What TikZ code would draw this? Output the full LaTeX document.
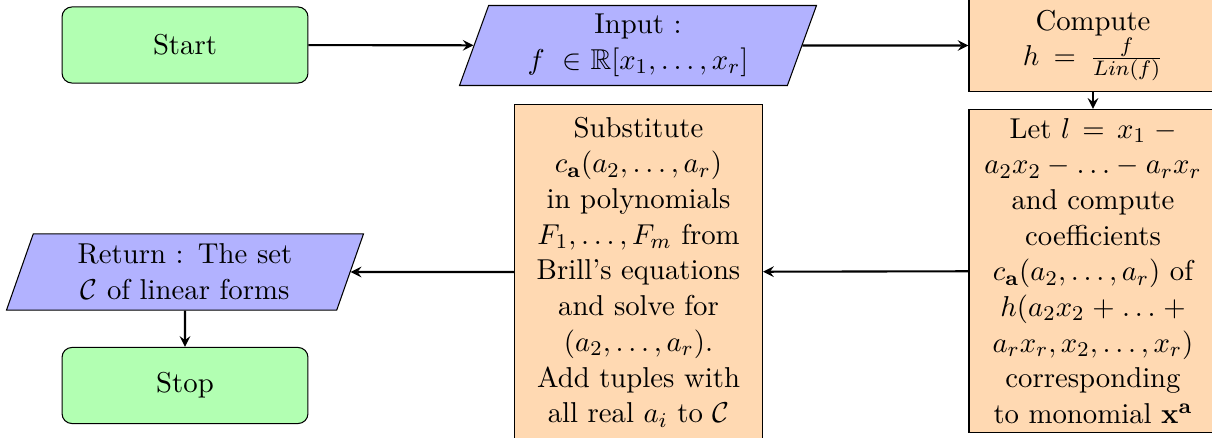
\documentclass[tikz,border=0pt]{standalone}
\usepackage{amsmath,amssymb}
\usetikzlibrary{shapes.geometric,arrows}
\begin{document}
\begin{tikzpicture}[x=0.381pt,y=-0.381pt,
  every node/.append style={font=\fontsize{10.95}{13.6}\selectfont},
  startstop/.style={rectangle, rounded corners=3.8pt, minimum width=93.7pt, minimum height=29pt, align=center, draw=black, fill=green!30},
  io/.style={trapezium, trapezium left angle=70, trapezium right angle=110, trapezium stretches body, minimum width=136pt, minimum height=29pt, text width=87pt, align=center, draw=black, fill=blue!30},
  process/.style={rectangle, minimum width=94.5pt, minimum height=29pt, text width=87pt, align=center, draw=black, fill=orange!30},
  arrow/.style={thick,->,>=stealth}]
\useasboundingbox (0,0) rectangle (1212,438);
\node[startstop] (start) at (185,45) {Start};
\node[io] (in) at (638,45.5) {Input :\\ $f\ \in \mathbb{R}[x_1,\ldots,x_r]$};
\node[process, minimum height=35pt] (comp) at (1093,45.5) {Compute $h = \frac{f}{Lin(f)}$};
\node[process] (let) at (1093,271) {Let $l = x_1 - a_2x_2 - \ldots - a_rx_r$ and compute coefficients $c_{\mathbf{a}}(a_2,\ldots,a_r)$ of $h(a_2x_2+\ldots+a_rx_r,x_2,\ldots,x_r)$ corresponding to monomial $\mathbf{x}^{\mathbf{a}}$};
\node[process, minimum height=127.3pt] (sub) at (638.5,272) {Substitute $c_{\mathbf{a}}(a_2,\ldots,a_r)$ in polynomials $F_1,\ldots,F_m$ from Brill's equations and solve for $(a_2,\ldots,a_r)$. Add tuples with all real $a_i$ to $\mathcal{C}$};
\node[io] (ret) at (185,272) {Return : The set $\mathcal{C}$ of linear forms};
\node[startstop] (stop) at (185,385.5) {Stop};
\draw[arrow] (start) -- (in);
\draw[arrow] (in) -- (comp);
\draw[arrow] (comp) -- (let);
\draw[arrow] (let) -- (sub);
\draw[arrow] (sub) -- (ret);
\draw[arrow] (ret) -- (stop);
\end{tikzpicture}
\end{document}
